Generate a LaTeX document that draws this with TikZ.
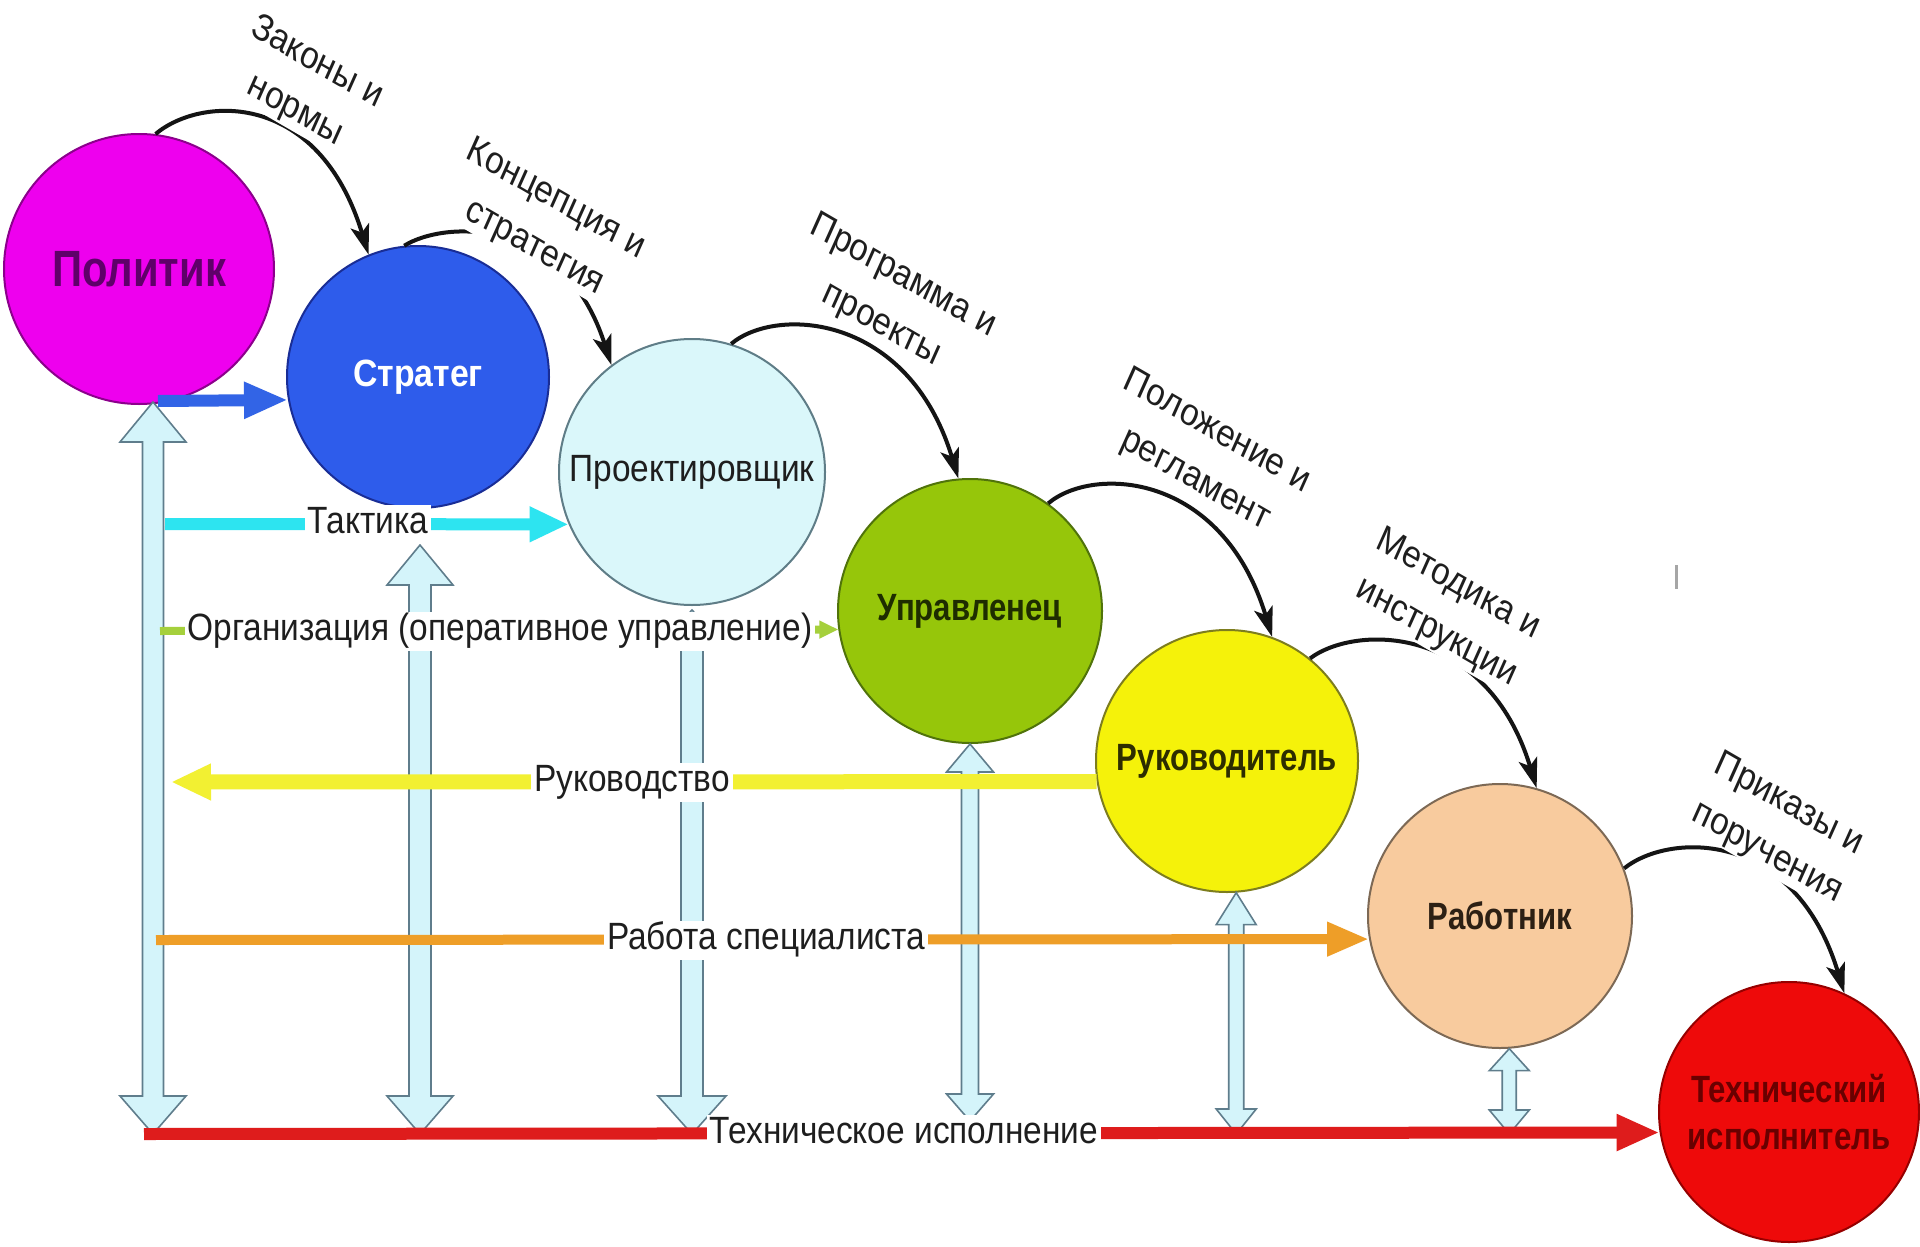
\documentclass[tikz,border=0pt]{standalone}
\usepackage{fontspec}
\setmainfont{Liberation Sans}
\usepackage{graphicx}
\usetikzlibrary{arrows.meta,calc}
\definecolor{cPol}{RGB}{238,0,238}
\definecolor{cPolD}{RGB}{140,0,140}
\definecolor{cPolT}{RGB}{95,0,105}
\definecolor{cStr}{RGB}{46,92,235}
\definecolor{cStrD}{RGB}{25,45,150}
\definecolor{cPro}{RGB}{218,247,250}
\definecolor{cProD}{RGB}{95,125,135}
\definecolor{cUpr}{RGB}{150,198,10}
\definecolor{cUprD}{RGB}{80,115,10}
\definecolor{cRuk}{RGB}{245,242,10}
\definecolor{cRukD}{RGB}{125,125,30}
\definecolor{cRab}{RGB}{248,203,158}
\definecolor{cRabD}{RGB}{125,105,85}
\definecolor{cTeh}{RGB}{238,10,10}
\definecolor{cTehD}{RGB}{150,0,0}
\definecolor{cTehT}{RGB}{105,0,0}
\definecolor{lBlue}{RGB}{50,100,230}
\definecolor{lCyan}{RGB}{45,228,240}
\definecolor{lGreen}{RGB}{165,208,60}
\definecolor{lYel}{RGB}{242,240,50}
\definecolor{lOra}{RGB}{238,158,40}
\definecolor{lRed}{RGB}{222,28,28}
\definecolor{hFill}{RGB}{212,244,250}
\definecolor{hLine}{RGB}{95,125,140}
\definecolor{txt}{RGB}{30,30,30}
\newcommand\sq[1]{\scalebox{0.88}[1]{#1}}
\newcommand\sqb[1]{\scalebox{0.82}[1]{#1}}
\newcommand\hollowarrow[6]{%
  \draw[hollow] let \p1=(#1), \p2=(#2) in
    (\x1,\y1) -- (\x1+#4pt,\y1-#5pt) -- (\x1+#3pt,\y1-#5pt) -- (\x1+#3pt,\y2+#6pt)
    -- (\x1+#4pt,\y2+#6pt) -- (\x1,\y2) -- (\x1-#4pt,\y2+#6pt) -- (\x1-#3pt,\y2+#6pt)
    -- (\x1-#3pt,\y1-#5pt) -- (\x1-#4pt,\y1-#5pt) -- cycle;}
\begin{document}
\begin{tikzpicture}[x=1pt,y=-1pt,
  circ/.style={circle, inner sep=0pt, line width=2pt, align=center,
    font=\fontsize{38}{47}\selectfont\bfseries},
  hlab/.style={fill=white, inner xsep=3pt, inner ysep=2pt, text height=27pt, text depth=8pt,
    font=\fontsize{38}{46}\selectfont, text=txt},
  rotlab/.style={transform shape, cm={0.784,-0.454,0.400,0.891,(0,0)}, fill=white,
    inner sep=2pt, align=center, font=\fontsize{38}{54}\selectfont, text=txt},
  hollow/.style={draw=hLine, fill=hFill, line width=1.6pt, line join=miter},
  curv/.style={draw=black!92, line width=4pt, -{Stealth[length=30pt,width=19pt,inset=7pt]}},
  hline/.style={line width=12pt}
]
\useasboundingbox (0,0) rectangle (1920,1247);
\fill[white] (0,0) rectangle (1920,1247);

% circles
\node[circ, minimum size=270pt, fill=cPol, draw=cPolD, text=cPolT,
  font=\fontsize{51}{60}\selectfont\bfseries] (pol) at (139,269) {\sqb{Политик}};
\node[circ, minimum size=262pt, fill=cStr, draw=cStrD, text=white] (str) at (418,377) {\scalebox{0.89}[1]{Стратег}};
\node[circ, minimum size=266pt, fill=cPro, draw=cProD, text=txt,
  font=\fontsize{38}{47}\selectfont] (proj) at (692,472) {\sq{Проектировщик}};
\node[circ, minimum size=264pt, fill=cUpr, draw=cUprD, text={rgb,255:red,30;green,45;blue,0}] (upr) at (970,611) {\sqb{Управленец}};
\node[circ, minimum size=262pt, fill=cRuk, draw=cRukD, text={rgb,255:red,45;green,45;blue,0}] (ruk) at (1227,761) {\sqb{Руководитель}};
\node[circ, minimum size=264pt, fill=cRab, draw=cRabD, text={rgb,255:red,45;green,32;blue,20}] (rab) at (1500,916) {\sqb{Работник}};
\node[circ, minimum size=260pt, fill=cTeh, draw=cTehD, text=cTehT] (teh) at (1789,1112) {\sqb{Технический}\\\sqb{исполнитель}};

% hollow double arrows
\coordinate (a1t) at (153,402);
\coordinate (a1b) at (153,1134);
\coordinate (a2t) at (420,545);
\coordinate (a2b) at (420,1134);
\coordinate (a3t) at (692,610);
\coordinate (a3b) at (692,1134);
\coordinate (a4t) at (upr.south);
\coordinate (a4b) at (970,1121);
\coordinate (a5t) at (ruk.-86.5);
\coordinate (a5b) at (1235,1134);
\coordinate (a6t) at (rab.-86.5);
\coordinate (a6b) at (1508,1134);
\hollowarrow{a1t}{a1b}{10.5}{33}{40}{38}
\hollowarrow{a2t}{a2b}{11}{33}{40}{38}
\hollowarrow{a3t}{a3b}{11}{34}{37}{38}
\hollowarrow{a4t}{a4b}{8.5}{23.5}{28}{27}
\hollowarrow{a5t}{a5b}{7.5}{20}{32}{25}
\hollowarrow{a6t}{a6b}{7}{20}{22}{24}

% horizontal connectors
\coordinate (blS) at (158,401);
\coordinate (cyS) at (165,524);
\coordinate (grS) at (160,631);
\coordinate (yeE) at (171,782);
\coordinate (orS) at (156,940);
\coordinate (rdS) at (144,1134);
\draw[hline, draw=lBlue, -{Triangle[length=44pt,width=34pt]}] (blS) -- (str.190.6);
\draw[hline, draw=lCyan, -{Triangle[length=39pt,width=33pt]}] (cyS) -- (proj.203);
\draw[line width=8pt, draw=lGreen, -{Triangle[length=19pt,width=17pt]}] (grS) -- (upr.188.7);
\draw[line width=15pt, draw=lYel, -{Triangle[length=40pt,width=34pt]}] (ruk.189.2) -- (yeE);
\draw[line width=10pt, draw=lOra, -{Triangle[length=42pt,width=32pt]}] (orS) -- (rab.190.5);
\draw[hline, draw=lRed, -{Triangle[length=43pt,width=34pt]}] (rdS) -- (teh.189.7);

% labels on the horizontal connectors
\node[hlab] (lTak) at (368,524) {\sq{Тактика}};
\node[hlab] (lOrg) at (500,631) {\sq{Организация (оперативное управление)}};
\node[hlab] (lRuk) at (632,782) {\sq{Руководство}};
\node[hlab] (lRab) at (766,940) {\sq{Работа специалиста}};
\node[hlab] (lTeh) at (904,1134) {\sq{Техническое исполнение}};

% curved black arrows
\draw[curv] (pol.83) .. controls +(45,-38) and +(-50,-165) .. (str.112);
\draw[curv] (str.96) .. controls +(40,-25) and +(-48,-150) .. (proj.127);
\draw[curv] (proj.73) .. controls +(45,-38) and +(-50,-165) .. (upr.95);
\draw[curv] (upr.54) .. controls +(45,-38) and +(-50,-165) .. (ruk.70);
\draw[curv] (ruk.51) .. controls +(45,-34) and +(-50,-165) .. (rab.74);
\draw[curv] (rab.21) .. controls +(45,-36) and +(-50,-165) .. (teh.65);

% rotated labels
\node[rotlab] (t1) at (306,87) {Законы и\\нормы};
\node[rotlab] (t2) at (545,224) {Концепция и\\стратегия};
\node[rotlab] (t3) at (892,301) {Программа и\\проекты};
\node[rotlab] (t4) at (1206,456) {Положение и\\регламент};
\node[rotlab] (t5) at (1447,609) {Методика и\\инструкции};
\node[rotlab] (t6) at (1778,829) {Приказы и\\поручения};

% stray mark
\draw[gray!70, line width=3pt] (1676,565) -- (1676,589);
\end{tikzpicture}
\end{document}
